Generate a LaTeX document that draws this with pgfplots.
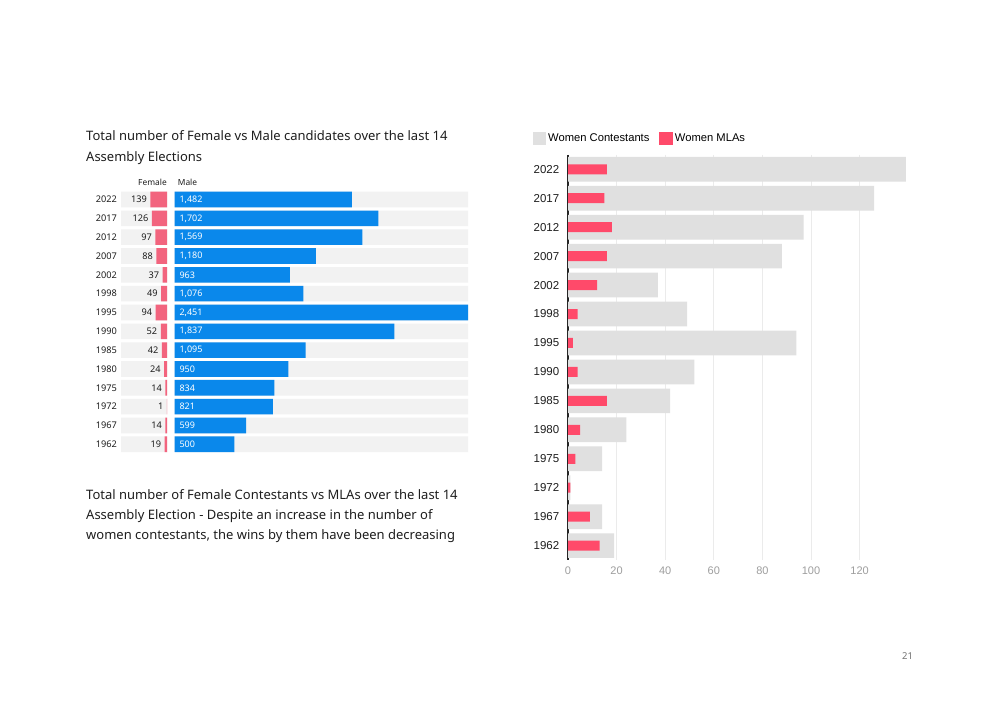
\documentclass[border=0pt]{standalone}
\usepackage{pgfplots}
\usepackage{pgfplotstable}
\pgfplotsset{compat=1.18}
\pgfplotsset{/pgf/number format/assume math mode=true}
\usepackage{fontspec}
\setmainfont{Noto Sans}
\newfontfamily\rob{Liberation Sans}
\definecolor{pinkL}{HTML}{F2647E}
\definecolor{blueL}{HTML}{0A88EB}
\definecolor{rowbg}{HTML}{F2F2F2}
\definecolor{pinkR}{HTML}{FF4A6A}
\definecolor{grayR}{HTML}{E0E0E0}
\definecolor{txt}{HTML}{1E1E1E}

\pgfplotstableread{
idx year female male mla zero bgF bgM
0 2022 139 1482 16 0 384 2451
1 2017 126 1702 15 0 384 2451
2 2012 97 1569 18 0 384 2451
3 2007 88 1180 16 0 384 2451
4 2002 37 963 12 0 384 2451
5 1998 49 1076 4 0 384 2451
6 1995 94 2451 2 0 384 2451
7 1990 52 1837 4 0 384 2451
8 1985 42 1095 16 0 384 2451
9 1980 24 950 5 0 384 2451
10 1975 14 834 3 0 384 2451
11 1972 1 821 1 0 384 2451
12 1967 14 599 9 0 384 2451
13 1962 19 500 13 0 384 2451
}\data

\begin{document}
\begin{tikzpicture}
\useasboundingbox (0,0) rectangle (1000pt,708pt);
\fill[white] (0,0) rectangle (1000pt,708pt);

\tikzset{ttl/.style={anchor=base west, inner sep=0pt, font=\fontsize{13}{15}\selectfont, text=txt}}
\node[ttl] at (86pt,567pt) {Total number of Female vs Male candidates over the last 14};
\node[ttl] at (86pt,546.5pt) {Assembly Elections};

\node[ttl] at (86pt,208.7pt) {Total number of Female Contestants vs MLAs over the last 14};
\node[ttl] at (86pt,188.7pt) {Assembly Election - Despite an increase in the number of};
\node[ttl] at (86pt,168.7pt) {women contestants, the wins by them have been decreasing};

\node[anchor=east, inner sep=0pt, font=\fontsize{8.4}{10}\selectfont, text=txt] at (167pt,526pt) {Female};
\node[anchor=west, inner sep=0pt, font=\fontsize{8.4}{10}\selectfont, text=txt] at (177.7pt,526pt) {Male};

\node[anchor=base, inner sep=0pt, font=\fontsize{9.5}{12}\selectfont, text=black!55] at (907.5pt,48pt) {21};

% Female axis
\begin{axis}[at={(121pt,517.9pt)}, anchor=north west, scale only axis,
  width=46pt, height=263.6pt,
  xmin=0, xmax=384, x dir=reverse, ymin=-0.5, ymax=13.5, y dir=reverse,
  axis line style={draw=none}, tick style={draw=none}, xtick=\empty,
  ytick={0,...,13}, yticklabels from table={\data}{year},
  yticklabel style={font=\fontsize{9.2}{10}\selectfont, text=txt, xshift=3.8pt},
  xbar, bar width=15.6pt, bar shift=0pt, clip=false]
\addplot[fill=rowbg, draw=none] table[x=bgF, y=idx]{\data};
\addplot[fill=pinkL, draw=none, nodes near coords, point meta=explicit,
  every node near coord/.append style={anchor=east, xshift=0pt, font=\fontsize{9.2}{10}\selectfont, text=txt}]
  table[x=female, y=idx, meta=female]{\data};
\end{axis}

% Male axis
\begin{axis}[at={(174.5pt,517.9pt)}, anchor=north west, scale only axis,
  width=293.5pt, height=263.6pt,
  xmin=0, xmax=2451, ymin=-0.5, ymax=13.5, y dir=reverse,
  axis line style={draw=none}, tick style={draw=none}, xtick=\empty, ytick=\empty,
  xbar, bar width=15.6pt, bar shift=0pt, clip=false]
\addplot[fill=rowbg, draw=none] table[x=bgM, y=idx]{\data};
\addplot[fill=blueL, draw=none] table[x=male, y=idx]{\data};
\addplot[draw=none, fill=none, nodes near coords, point meta=explicit,
  every node near coord/.append style={anchor=west, xshift=1.5pt, font=\fontsize{9}{10}\selectfont, text=white}]
  table[x=zero, y=idx, meta=male]{\data};
\end{axis}

% Right axis
\begin{axis}[at={(568pt,553.2pt)}, anchor=north west, scale only axis,
  width=339pt, height=405.3pt,
  xmin=0, xmax=139.5, ymin=-0.5, ymax=13.5, y dir=reverse,
  xbar, bar shift=0pt,
  axis x line*=bottom, axis y line*=left,
  x axis line style={draw=none},
  y axis line style={draw=black!85, line width=1.2pt, -},
  tick style={draw=none},
  xtick={0,20,...,120}, xmajorgrids, grid style={draw=black!8, line width=1pt},
  xticklabel style={font=\rob\fontsize{11}{12}\selectfont, text=black!38, yshift=-3pt},
  ytick={0,...,13}, yticklabels from table={\data}{year},
  yticklabel style={font=\rob\fontsize{11.5}{12}\selectfont, text=txt, xshift=-1pt},
  legend style={at={(axis description cs:0,1)}, anchor=west, xshift=-35.5pt, yshift=16pt,
    draw=none, fill=none, inner sep=0pt, font=\rob\fontsize{11.2}{12}\selectfont,
    /tikz/every even column/.append style={column sep=8pt}},
  legend columns=2,
  legend image code/.code={\fill[#1] (0pt,-6.5pt) rectangle (13.5pt,6.5pt);}]
\addplot[fill=grayR, draw=none, bar width=24.7pt] table[x=female, y=idx]{\data};
\addlegendentry{Women Contestants}
\addplot[fill=pinkR, draw=none, bar width=10pt] table[x=mla, y=idx]{\data};
\addlegendentry{Women MLAs}
\end{axis}
\end{tikzpicture}
\end{document}
